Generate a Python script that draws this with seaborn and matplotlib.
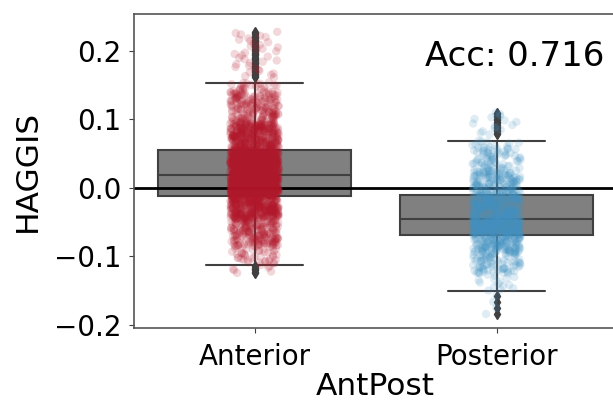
import numpy as np
import pandas as pd
import matplotlib
matplotlib.use('Agg')
import matplotlib.pyplot as plt
import seaborn as sns

# Values (HAGGIS score per group)
groups = ['Anterior', 'Posterior']
counts = [2400, 950]
# cumulative fraction -> HAGGIS value, read from box, whiskers, fliers and point cloud
ant_probs = [0.0, 0.003, 0.02, 0.1, 0.25, 0.5, 0.75, 0.9, 0.975, 0.985, 0.9851, 1.0]
ant_values = [-0.124, -0.110, -0.085, -0.045, -0.012, 0.019, 0.056, 0.095, 0.140, 0.154, 0.160, 0.228]
post_probs = [0.0, 0.004, 0.02, 0.1, 0.25, 0.5, 0.75, 0.9, 0.975, 0.985, 0.9851, 1.0]
post_values = [-0.184, -0.150, -0.125, -0.095, -0.068, -0.045, -0.010, 0.025, 0.060, 0.070, 0.078, 0.110]
accuracy = 0.716

group_colors = {'Anterior': '#b2182b', 'Posterior': '#4393c3'}

# expand the read quantiles into per-sample rows
rows = []
for name, n, probs, vals in zip(groups, counts, [ant_probs, post_probs], [ant_values, post_values]):
    p = np.linspace(0, 1, n)
    for v in np.interp(p, probs, vals):
        rows.append((name, v))
df = pd.DataFrame(rows, columns=['AntPost', 'HAGGIS'])

sns.set_style('ticks')
plt.rcParams['font.family'] = ['DejaVu Sans']
plt.rcParams.update({'text.color': 'black', 'axes.labelcolor': 'black',
                     'xtick.color': 'black', 'ytick.color': 'black'})

fig = plt.figure(figsize=(6.13, 4.0), dpi=100)
ax = fig.add_axes([0.2178, 0.18, 0.7896, 0.785])

sns.boxplot(data=df, x='AntPost', y='HAGGIS', order=groups, color='gray',
            linecolor='#404040', linewidth=1.5, width=0.8, ax=ax,
            flierprops=dict(marker='d', markerfacecolor='#404040',
                            markeredgecolor='#404040', markersize=5))
sns.stripplot(data=df, x='AntPost', y='HAGGIS', order=groups, hue='AntPost',
              palette=group_colors, alpha=0.17, size=6, linewidth=0,
              legend=False, ax=ax)
ax.axhline(0, color='black', lw=2)

ax.set_ylim(-0.2044, 0.254)
ax.set_yticks([-0.2, -0.1, 0.0, 0.1, 0.2])
ax.tick_params(labelsize=20, length=3.5, pad=5, color='#404040')
ax.tick_params(axis='x', pad=7)
ax.set_xlabel('AntPost', fontsize=22.5, labelpad=1)
ax.set_ylabel('HAGGIS', fontsize=22.5, labelpad=9)
for s in ax.spines.values():
    s.set_color('#555555')
    s.set_linewidth(1.2)

ax.text(0.602, 0.834, f'Acc: {accuracy}', transform=ax.transAxes,
        fontsize=24.5, va='baseline', ha='left')

fig.savefig('out.png', dpi=100)
